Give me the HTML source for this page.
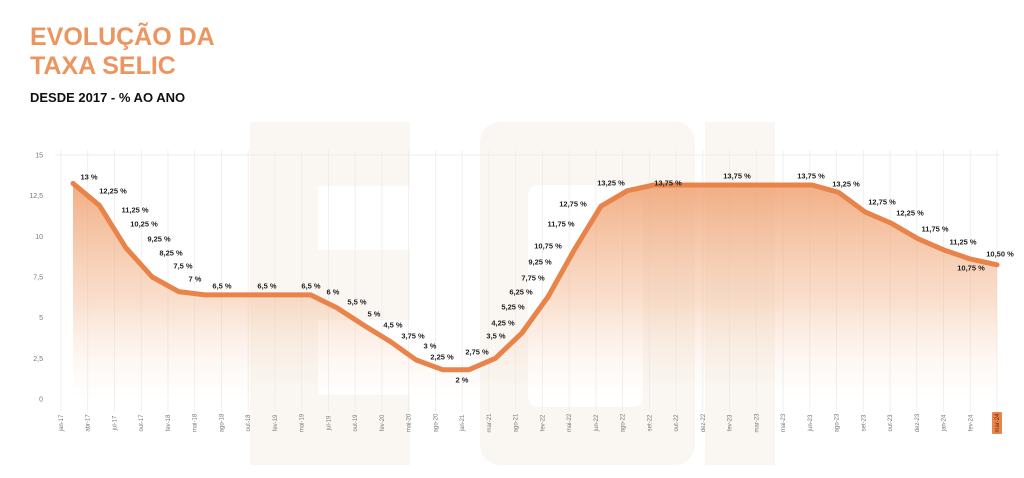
<!DOCTYPE html>
<html><head><meta charset="utf-8"><style>
body{margin:0;background:#fff;width:1024px;height:478px;overflow:hidden;font-family:"Liberation Sans",sans-serif}
svg{position:absolute;left:0;top:0}
</style></head><body>
<svg width="1024" height="478">
<defs>
<linearGradient id="fillg" x1="0" y1="0" x2="0" y2="1">
<stop offset="0" stop-color="#ee9a66" stop-opacity="0.8"/>
<stop offset="0.55" stop-color="#f3b891" stop-opacity="0.45"/>
<stop offset="1" stop-color="#fbe3d2" stop-opacity="0"/>
</linearGradient>
</defs>
<g fill="#faf7f3">
<rect x="250" y="122" width="160" height="343"/>
<rect x="480" y="122" width="215" height="343" rx="20"/>
<rect x="705" y="122" width="70" height="343"/>
</g>
<g fill="#fff">
<rect x="318" y="186" width="92" height="64"/>
<rect x="318" y="320" width="92" height="75"/>
<rect x="528" y="185" width="115" height="222" rx="10"/>
</g>
<text x="30" y="45" font-size="25" font-weight="bold" fill="#eb9660">EVOLUÇÃO DA</text>
<text x="30" y="74" font-size="25" font-weight="bold" fill="#eb9660">TAXA SELIC</text>
<text x="30" y="102" font-size="13" font-weight="bold" fill="#111">DESDE 2017 - % AO ANO</text>
<g id="grid"></g><g id="yaxis"></g><g id="xaxis"></g><g id="series"></g><g id="labels"></g>
</svg>
<script>
const categories=["jan-17","abr-17","jul-17","out-17","fev-18","mai-18","ago-18","out-18","fev-19","mai-19","jul-19","out-19","fev-20","mai-20","ago-20","jan-21","mar-21","ago-21","fev-22","mai-22","jun-22","ago-22","set-22","out-22","dez-22","fev-23","mar-23","mai-23","jun-23","ago-23","set-23","out-23","dez-23","jan-24","fev-24","mar-24"];
const values=[13.25,11.9,9.3,7.5,6.6,6.4,6.4,6.4,6.4,6.4,5.6,4.55,3.55,2.4,1.8,1.8,2.5,4.05,6.3,9.2,11.85,12.8,13.15,13.15,13.15,13.15,13.15,13.15,13.15,12.7,11.5,10.8,9.85,9.15,8.6,8.25];
const yTicks=[0,2.5,5,7.5,10,12.5,15];
const yTickLabels=["0","2,5","5","7,5","10","12,5","15"];
const labelTexts=["13 %","12,25 %","11,25 %","10,25 %","9,25 %","8,25 %","7,5 %","7 %","6,5 %","6,5 %","6,5 %","6 %","5,5 %","5 %","4,5 %","3,75 %","3 %","2,25 %","2 %","2,75 %","3,5 %","4,25 %","5,25 %","6,25 %","7,75 %","9,25 %","10,75 %","11,75 %","12,75 %","13,25 %","13,75 %","13,75 %","13,75 %","13,25 %","12,75 %","12,25 %","11,75 %","11,25 %","10,75 %","10,50 %"];
const labelLayout=[[89,177],[113,191],[135,210],[144,224],[159,239],[171,253],[183,266],[195,279],[222,286],[267,286],[311,286],[333,292],[357,302],[374,314],[393,325],[413,336],[430,346],[442,357],[462,380],[477,352],[496,336],[503,323],[513,307],[521,292],[533,278],[540,262],[548,246],[561,224],[573,204],[611,183],[668,183],[737,176],[811,176],[846,184],[882,202],[910,213],[935,229],[963,242],[971,268],[1000,254]];
const NS="http://www.w3.org/2000/svg";
function mk(t,a,p){const e=document.createElementNS(NS,t);for(const k in a)e.setAttribute(k,a[k]);p.appendChild(e);return e;}
const y=v=>399-v*16.27;
const xLine=i=>73+(997-73)*i/(categories.length-1);
const xTick=i=>61+(997-61)*i/(categories.length-1);
const grid=document.getElementById('grid'),ya=document.getElementById('yaxis'),xa=document.getElementById('xaxis'),se=document.getElementById('series'),lb=document.getElementById('labels');
yTicks.forEach((t,i)=>{
 const tx=mk('text',{x:43,y:y(t)+2.5,'font-size':7,fill:'#777','text-anchor':'end'},ya);
 tx.textContent=yTickLabels[i];
 
 
});
mk('line',{x1:55,x2:1000,y1:y(15),y2:y(15),stroke:'#eee','stroke-width':1},grid);
categories.forEach((c,i)=>{
 const X=xTick(i);
 const gl=mk('line',{x1:X,x2:X,y1:150,y2:412,stroke:'#ececec','stroke-width':0.8},grid);
 
 
 if(i===categories.length-1){
  const r=mk('rect',{x:X-5,y:412,width:10,height:22,fill:'#e8834a',rx:1},xa);
  
  
 }
 const t=mk('text',{x:0,y:0,'font-size':6,fill:i===categories.length-1?'#6a2c0a':'#777','text-anchor':'middle',transform:`translate(${X+2},423) rotate(-90)`},xa);
 t.textContent=c;
 
 
});
let d='';values.forEach((v,i)=>{d+=(i?'L':'M')+xLine(i).toFixed(1)+','+y(v).toFixed(1);});
const area=mk('path',{d:d+`L${xLine(values.length-1)},${y(0)}L${xLine(0)},${y(0)}Z`,fill:'url(#fillg)'},se);


const line=mk('path',{d:d,fill:'none',stroke:'#e8834a','stroke-width':5,'stroke-linejoin':'round','stroke-linecap':'round'},se);


labelTexts.forEach((s,i)=>{
 const t=mk('text',{x:labelLayout[i][0],y:labelLayout[i][1]+2.5,'font-size':7.5,'font-weight':'bold',fill:'#222','text-anchor':'middle'},lb);
 t.textContent=s;
 
 
});
</script>
</body></html>
